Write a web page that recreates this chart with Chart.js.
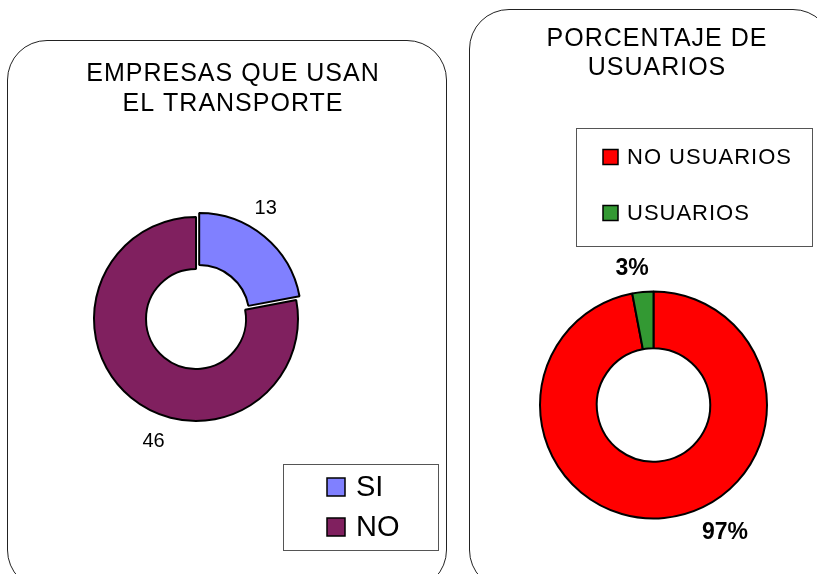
<!DOCTYPE html>
<html>
<head>
<meta charset="utf-8">
<script src="https://cdn.jsdelivr.net/npm/chart.js@4/dist/chart.umd.min.js"></script>
<style>
  html, body { margin: 0; padding: 0; background: #fff; overflow: hidden; }
  body { width: 817px; height: 574px; position: relative; }
  .panel { position: absolute; border: 1.5px solid #222; border-radius: 40px; box-sizing: border-box; }
  #p1 { left: 7px; top: 40px; width: 440px; height: 550px; }
  #p2 { left: 469px; top: 9px; width: 364px; height: 581px; }
  canvas { position: absolute; left: 0; top: 0; }
</style>
</head>
<body>
<div class="panel" id="p1"></div>
<div class="panel" id="p2"></div>
<canvas id="c1" width="817" height="574"></canvas>
<canvas id="c2" width="817" height="574"></canvas>
<script>
// left chart
const empresasTitle = ["EMPRESAS QUE USAN", "EL TRANSPORTE"];
const empresasLabels = ["SI", "NO"];
const empresasValues = [13, 46];
const empresasColors = ["#8080FF", "#80205F"];

// right chart
const usuariosTitle = ["PORCENTAJE DE", "USUARIOS"];
const usuariosLabels = ["NO USUARIOS", "USUARIOS"];
const usuariosValues = [97, 3];
const usuariosColors = ["#FF0000", "#339933"];

// draws the title, the value labels and the boxed legend of one panel
function makeDecor(cfg) {
  return {
    id: "decor",
    afterDraw(chart) {
      const ctx = chart.ctx;
      const ds = chart.data.datasets[0];
      ctx.save();
      ctx.fillStyle = "#000";
      ctx.textAlign = "center";
      ctx.textBaseline = "middle";

      ctx.font = cfg.titleFont;
      ctx.letterSpacing = "1px";
      cfg.title.forEach((t, i) => {
        ctx.fillText(t, cfg.titleX, cfg.titleY + i * cfg.titleLine);
      });

      ctx.letterSpacing = "0px";
      ctx.font = cfg.labelFont;
      chart.getDatasetMeta(0).data.forEach((arc, i) => {
        const p = cfg.labelPos[i];
        const a = (arc.startAngle + arc.endAngle) / 2 + p.shift * Math.PI / 180;
        const r = arc.outerRadius + p.gap;
        ctx.fillText(cfg.format(ds.data[i]), arc.x + Math.cos(a) * r, arc.y + Math.sin(a) * r);
      });

      const L = cfg.legend;
      ctx.strokeStyle = "#555";
      ctx.lineWidth = 1;
      ctx.strokeRect(L.x + 0.5, L.y + 0.5, L.w, L.h);
      ctx.textAlign = "left";
      ctx.font = L.font;
      ctx.letterSpacing = L.spacing;
      chart.data.labels.forEach((lab, i) => {
        const cy = L.firstY + i * L.step;
        ctx.fillStyle = ds.backgroundColor[i];
        ctx.fillRect(L.boxX, cy - L.box / 2, L.box, L.box);
        ctx.strokeStyle = "#000";
        ctx.lineWidth = 1.5;
        ctx.strokeRect(L.boxX, cy - L.box / 2, L.box, L.box);
        ctx.fillStyle = "#000";
        ctx.fillText(lab, L.textX, cy + 1);
      });
      ctx.restore();
    },
  };
}

const noBuiltins = {
  legend: { display: false },
  title: { display: false },
  tooltip: { enabled: false },
};

new Chart(document.getElementById("c1"), {
  type: "doughnut",
  data: {
    labels: empresasLabels,
    datasets: [
      {
        data: empresasValues,
        backgroundColor: empresasColors,
        borderColor: "#000",
        borderWidth: 2,
        offset: [20, 0],
      },
    ],
  },
  options: {
    responsive: false,
    animation: false,
    cutout: "49%",
    radius: 102,
    layout: { padding: { left: 76, right: 501, top: 199, bottom: 135 } },
    plugins: noBuiltins,
  },
  plugins: [
    makeDecor({
      title: empresasTitle,
      titleFont: "25px 'Liberation Sans', Arial, sans-serif",
      titleX: 233,
      titleY: 74,
      titleLine: 30,
      labelFont: "20px 'Liberation Sans', Arial, sans-serif",
      format: (v) => String(v),
      labelPos: [
        { shift: -7.5, gap: 29 },
        { shift: -20.6, gap: 28 },
      ],
      legend: {
        x: 283, y: 464, w: 155, h: 86,
        boxX: 327, box: 18, firstY: 487, step: 40, textX: 356,
        font: "29px 'Liberation Sans', Arial, sans-serif",
        spacing: "0px",
      },
    }),
  ],
});

new Chart(document.getElementById("c2"), {
  type: "doughnut",
  data: {
    labels: usuariosLabels,
    datasets: [
      {
        data: usuariosValues,
        backgroundColor: usuariosColors,
        borderColor: "#000",
        borderWidth: 2,
      },
    ],
  },
  options: {
    responsive: false,
    animation: false,
    cutout: "50%",
    radius: 113.5,
    layout: { padding: { left: 533.5, right: 43.5, top: 285, bottom: 49 } },
    plugins: noBuiltins,
  },
  plugins: [
    makeDecor({
      title: usuariosTitle,
      titleFont: "25px 'Liberation Sans', Arial, sans-serif",
      titleX: 657,
      titleY: 39,
      titleLine: 29,
      labelFont: "bold 23px 'Liberation Sans', Arial, sans-serif",
      format: (v) => v + "%",
      labelPos: [
        { shift: -23.8, gap: 33 },
        { shift: -3.5, gap: 25 },
      ],
      legend: {
        x: 576, y: 128, w: 236, h: 118,
        boxX: 603, box: 15, firstY: 157, step: 56, textX: 627,
        font: "22px 'Liberation Sans', Arial, sans-serif",
        spacing: "1px",
      },
    }),
  ],
});
</script>
</body>
</html>
